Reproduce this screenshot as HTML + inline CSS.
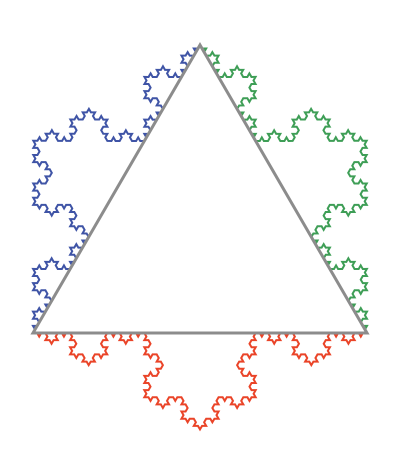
<!DOCTYPE html>
<html><head><meta charset="utf-8"><style>html,body{margin:0;background:#fff;width:400px;height:450px;overflow:hidden}</style></head>
<body>
<svg id="chart" width="400" height="450" xmlns="http://www.w3.org/2000/svg"></svg>
<script>
const vertexX = [33, 200, 367];
const vertexY = [333, 45, 333];
const sideColors = ["#3f54a6", "#3e9e56", "#ea4428"];
const sideNames = ["koch-side-left", "koch-side-right", "koch-side-bottom"];
const depth = 4;
const svg = document.getElementById('chart');
const NS = 'http://www.w3.org/2000/svg';
function koch(ax, ay, bx, by, d, out) {
  if (d === 0) { out.push([bx, by]); return; }
  const dx = (bx-ax)/3, dy = (by-ay)/3;
  const p1 = [ax+dx, ay+dy], p2 = [ax+2*dx, ay+2*dy];
  const c = Math.cos(-Math.PI/3), s = Math.sin(-Math.PI/3);
  const px = p1[0] + dx*c - dy*s, py = p1[1] + dx*s + dy*c;
  koch(ax, ay, p1[0], p1[1], d-1, out);
  koch(p1[0], p1[1], px, py, d-1, out);
  koch(px, py, p2[0], p2[1], d-1, out);
  koch(p2[0], p2[1], bx, by, d-1, out);
}
const order = [[0,1],[1,2],[2,0]];
order.forEach((pair, i) => {
  const [a, b] = pair;
  const ax = vertexX[a], ay = vertexY[a], bx = vertexX[b], by = vertexY[b];
  const pts = [[ax, ay]];
  koch(ax, ay, bx, by, depth, pts);
  const pl = document.createElementNS(NS, 'polyline');
  pl.setAttribute('points', pts.map(p => p[0].toFixed(2)+','+p[1].toFixed(2)).join(' '));
  pl.setAttribute('fill', 'none');
  pl.setAttribute('stroke', sideColors[i]);
  pl.setAttribute('stroke-width', '2');
  
  
  svg.appendChild(pl);
});
const tri = document.createElementNS(NS, 'polygon');
tri.setAttribute('points', vertexX.map((x, i) => x+','+vertexY[i]).join(' '));
tri.setAttribute('fill', 'none');
tri.setAttribute('stroke', '#8c8c8c');
tri.setAttribute('stroke-width', '3');


svg.appendChild(tri);
</script>
</body></html>
